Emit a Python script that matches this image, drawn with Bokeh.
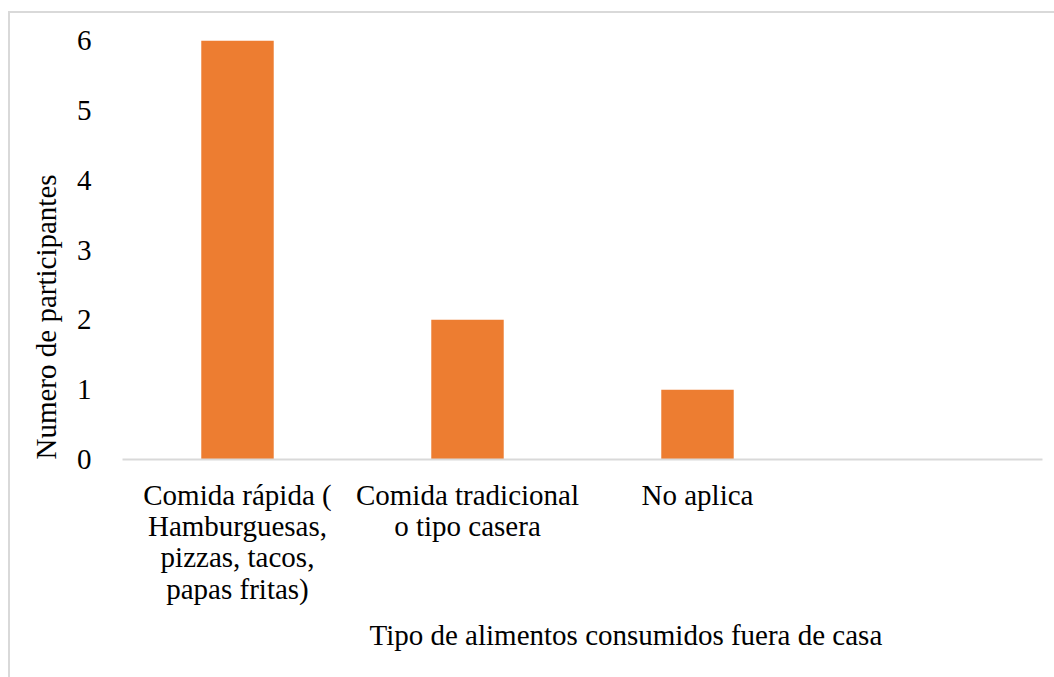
from bokeh.plotting import figure
from bokeh.models import FactorRange, Range1d, Title, FixedTicker, ColumnDataSource
from bokeh.embed import file_html
from bokeh.resources import INLINE

# Survey data: type of food eaten away from home (labels wrapped as in the axis)
categories = [
    "Comida rápida (\nHamburguesas,\npizzas, tacos,\npapas fritas)",
    "Comida tradicional\no tipo casera",
    "No aplica",
    " ",
]
participants = [6, 2, 1]
y_ticks = [0, 1, 2, 3, 4, 5, 6]

FONT = "Liberation Serif"
FS = "29px"
ORANGE = "#ED7D31"
GREY = "#D9D9D9"

source = ColumnDataSource(dict(cat=categories[:len(participants)], n=participants))

p = figure(
    x_range=FactorRange(*categories, range_padding=0),
    y_range=Range1d(0, 6),
    width=1046, height=666,
    output_backend="svg", toolbar_location=None,
    min_border_left=112, min_border_right=14,
    min_border_top=27, min_border_bottom=220,
)
p.styles = {
    "margin-left": "8px", "margin-top": "11px",
    "border-left": f"2px solid {GREY}", "border-top": f"2px solid {GREY}",
}

p.vbar(x="cat", top="n", width=0.315, source=source, color=ORANGE, line_color=None)

p.outline_line_color = None
p.xgrid.grid_line_color = None
p.ygrid.grid_line_color = None
p.background_fill_color = "white"
p.border_fill_color = "white"

# y axis
ya = p.yaxis[0]
ya.ticker = FixedTicker(ticks=y_ticks)
ya.axis_line_color = None
ya.major_tick_line_color = None
ya.minor_tick_line_color = None
ya.major_label_standoff = 25
ya.major_label_text_font = FONT
ya.major_label_text_font_size = FS
ya.major_label_text_color = "black"

# x axis
xa = p.xaxis[0]
xa.axis_line_color = GREY
xa.axis_line_width = 2
xa.major_tick_line_color = None
xa.minor_tick_line_color = None
xa.major_label_standoff = 13
xa.major_label_text_font = FONT
xa.major_label_text_font_size = FS
xa.major_label_text_color = "black"
xa.major_label_text_line_height = 0.98
xa.major_label_orientation = "horizontal"

p.add_layout(Title(text="Tipo de alimentos consumidos fuera de casa", align="left",
                   offset=247, text_font=FONT, text_font_size=FS,
                   text_font_style="normal", text_color="black", standoff=19), "below")
p.add_layout(Title(text="Numero de participantes", align="left",
                   offset=0, text_font=FONT, text_font_size=FS,
                   text_font_style="normal", text_color="black", standoff=24), "left")

open("out.html", "w").write(file_html(p, INLINE))
